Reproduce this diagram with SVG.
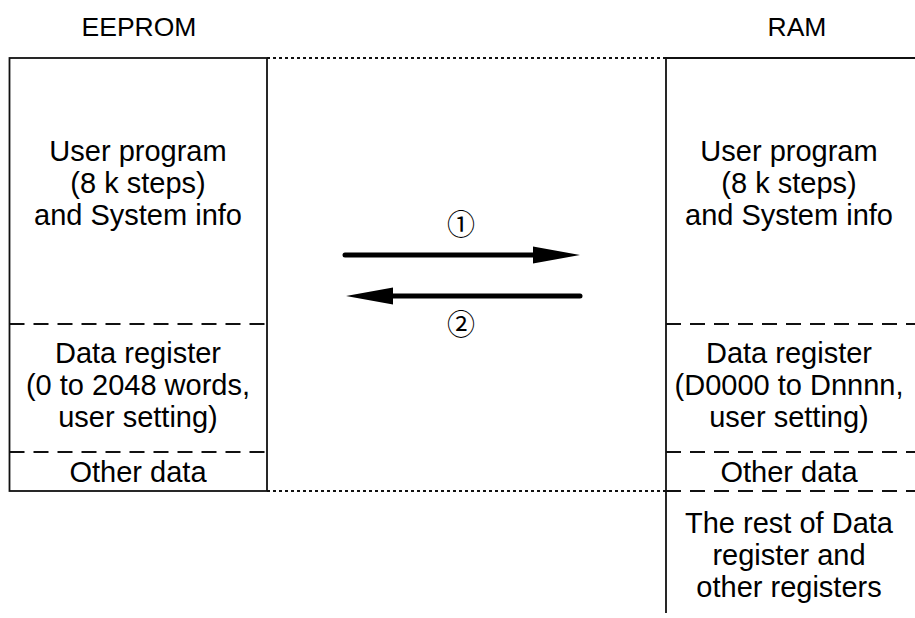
<svg xmlns="http://www.w3.org/2000/svg" width="915" height="618" viewBox="0 0 915 618">
<style>
text{font-family:"Liberation Sans",Arial,sans-serif;font-size:29px;fill:#000;text-anchor:middle}
.hdr{font-size:26.5px}
.num{font-family:"Noto Sans CJK JP","DejaVu Sans",sans-serif;font-size:28px;font-weight:400}
.solid{fill:none;stroke:#111;stroke-width:1.8}
.dash{fill:none;stroke:#111;stroke-width:1.8;stroke-dasharray:15 9}
.dot{fill:none;stroke:#111;stroke-width:1.8;stroke-dasharray:3 3}
.arrow{fill:none;stroke:#000;stroke-width:5;stroke-linecap:round}
</style>
<g id="eeprom">
<text class="hdr" x="139" y="36">EEPROM</text>
<rect class="solid" x="9.5" y="58" width="257.5" height="433"/>
<line class="dash" x1="9.5" y1="324" x2="267" y2="324"/>
<line class="dash" x1="9.5" y1="452" x2="267" y2="452"/>
<text x="138" y="161">User program</text>
<text x="138" y="193">(8 k steps)</text>
<text x="138" y="225">and System info</text>
<text x="138" y="363">Data register</text>
<text x="138" y="395">(0 to 2048 words,</text>
<text x="138" y="427">user setting)</text>
<text x="138" y="482">Other data</text>
</g>
<g id="ram">
<text class="hdr" x="797" y="36">RAM</text>
<polyline class="solid" points="915,58 666,58 666,613"/>
<line class="dash" x1="666" y1="324" x2="915" y2="324"/>
<line class="dash" x1="666" y1="452" x2="915" y2="452"/>
<line class="dash" x1="666" y1="491" x2="915" y2="491"/>
<text x="789" y="161">User program</text>
<text x="789" y="193">(8 k steps)</text>
<text x="789" y="225">and System info</text>
<text x="789" y="363">Data register</text>
<text x="789" y="395">(D0000 to Dnnnn,</text>
<text x="789" y="427">user setting)</text>
<text x="789" y="482">Other data</text>
<text x="789" y="533">The rest of Data</text>
<text x="789" y="565">register and</text>
<text x="789" y="597">other registers</text>
</g>
<g id="connectors">
<line class="dot" x1="267" y1="58" x2="666" y2="58"/>
<line class="dot" x1="267" y1="491" x2="666" y2="491"/>
<line class="arrow" x1="345" y1="255" x2="535" y2="255"/>
<polygon points="533,246.5 580,255 533,263.5" fill="#000"/>
<line class="arrow" x1="580" y1="296" x2="392" y2="296"/>
<polygon points="393,287.5 346,296 393,304.5" fill="#000"/>
<text class="num" x="461" y="235">①</text>
<text class="num" x="461" y="335">②</text>
</g>
</svg>
